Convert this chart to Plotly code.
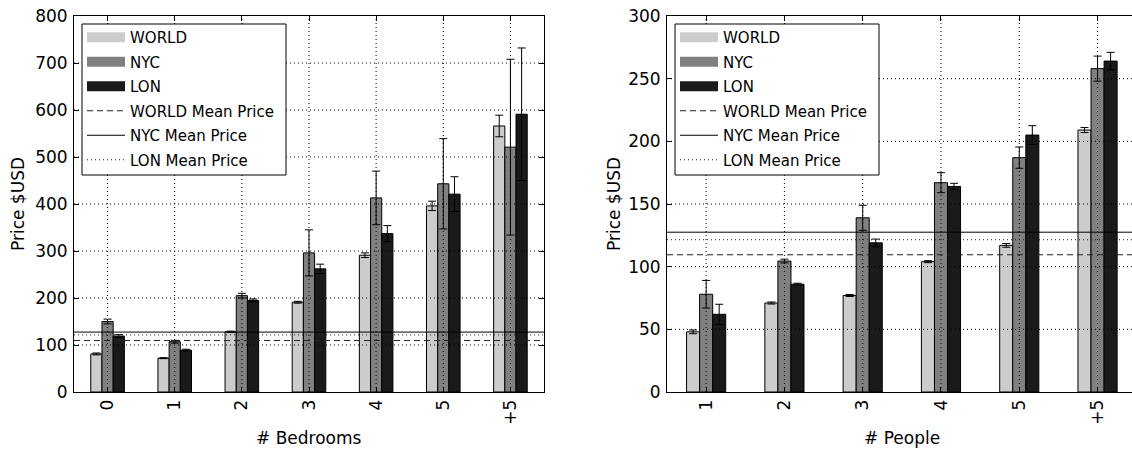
import plotly.graph_objects as go

# ---------------- data ----------------
bed_cats = ["0", "1", "2", "3", "4", "5", "+5"]
bed_world = [81, 72, 128, 191, 291, 396, 566]
bed_world_err = [2, 1, 1.5, 2, 5, 10, 23]
bed_nyc = [150, 107, 205, 296, 413, 443, 521]
bed_nyc_err = [5, 3, 5, 49, 57, 96, 187]
bed_lon = [119, 89, 195, 262, 337, 421, 591]
bed_lon_err = [3, 2, 3, 10, 17, 37, 141]

ppl_cats = ["1", "2", "3", "4", "5", "+5"]
ppl_world = [48, 71, 77, 104, 117, 209]
ppl_world_err = [1.5, 0.8, 0.8, 0.8, 1.5, 2]
ppl_nyc = [78, 104.5, 139, 167, 187, 258]
ppl_nyc_err = [11, 1.5, 10, 8, 8.5, 10]
ppl_lon = [62, 86, 119, 164, 205, 264]
ppl_lon_err = [8, 0.8, 3, 2.5, 7.5, 7]

mean_world = 109.5
mean_nyc = 127.5
mean_lon = 121.5

bed_yticks = [0, 100, 200, 300, 400, 500, 600, 700, 800]
ppl_yticks = [0, 50, 100, 150, 200, 250, 300]

series_names = ["WORLD", "NYC", "LON"]
series_colors = ["#cccccc", "#808080", "#1a1a1a"]
mean_names = ["WORLD Mean Price", "NYC Mean Price", "LON Mean Price"]
mean_values = [mean_world, mean_nyc, mean_lon]
mean_dashes = ["6px,4px", "solid", "1px,3px"]
mean_colors = ["#222222", "black", "#222222"]

FONT = "DejaVu Sans"
W, H = 1132, 450
T, B = 16, 58
PH = H - T - B
LEFT_PX = (74, 544)
RIGHT_PX = (667, 1132)


def py(pix):
    """pixel row -> paper y"""
    return 1 - (pix - T) / PH


fig = go.Figure()


def add_panel(cats, vals, errs, xa, ya, leg, grp):
    xs = list(range(len(cats)))
    for i, (name, col) in enumerate(zip(series_names, series_colors)):
        fig.add_trace(go.Bar(
            x=xs, y=vals[i], name=name, showlegend=False,
            marker=dict(color=col, line=dict(color="black", width=1)),
            error_y=dict(type="data", array=errs[i], color="black",
                         thickness=1, width=4),
            xaxis=xa, yaxis=ya,
        ))
    # legend swatches for bars (wide rectangles)
    for i, (name, col) in enumerate(zip(series_names, series_colors)):
        fig.add_trace(go.Scatter(
            x=[None], y=[None], mode="lines", name=name,
            line=dict(color=col, width=12),
            xaxis=xa, yaxis=ya, legend=leg, legendgroup=f"{grp}{i}",
        ))
    for i, (name, d, c) in enumerate(zip(mean_names, mean_dashes, mean_colors)):
        fig.add_trace(go.Scatter(
            x=[None], y=[None], mode="lines", name=name,
            line=dict(color=c, width=1, dash=d),
            xaxis=xa, yaxis=ya, legend=leg, legendgroup=f"{grp}m{i}",
        ))


add_panel(bed_cats, [bed_world, bed_nyc, bed_lon],
          [bed_world_err, bed_nyc_err, bed_lon_err], "x", "y", "legend", "a")
add_panel(ppl_cats, [ppl_world, ppl_nyc, ppl_lon],
          [ppl_world_err, ppl_nyc_err, ppl_lon_err], "x2", "y2", "legend2", "b")

shapes = []
for xref, yref, cats, yticks, (px0, px1) in [
        ("x", "y", bed_cats, bed_yticks, LEFT_PX),
        ("x2", "y2", ppl_cats, ppl_yticks, RIGHT_PX)]:
    for k in range(len(cats)):
        shapes.append(dict(type="line", xref=xref, yref=f"{yref} domain",
                           x0=k, x1=k, y0=0, y1=1, layer="above",
                           line=dict(color="black", width=1, dash="1px,3px")))
    for t in yticks[1:-1]:
        shapes.append(dict(type="line", xref=f"{xref} domain", yref=yref,
                           x0=0, x1=1, y0=t, y1=t, layer="above",
                           line=dict(color="black", width=1, dash="1px,3px")))
    for v, d, c in zip(mean_values, mean_dashes, mean_colors):
        shapes.append(dict(type="line", xref=f"{xref} domain", yref=yref,
                           x0=0, x1=1, y0=v, y1=v, layer="above",
                           line=dict(color=c, width=1, dash=d)))
    # legend frame (in subplot domain coords so it covers the grid)
    lx = px0 + 8
    shapes.append(dict(type="rect", xref=f"{xref} domain", yref=f"{yref} domain",
                       x0=(lx - px0) / (px1 - px0),
                       x1=(lx + 204 - px0) / (px1 - px0),
                       y0=py(175), y1=py(24), layer="above",
                       fillcolor="white", line=dict(color="black", width=1)))

axis_common = dict(showline=True, linecolor="black", linewidth=1,
                   ticks="inside", ticklen=5, tickwidth=1, tickcolor="black",
                   showgrid=False, zeroline=False, automargin=False,
                   tickfont=dict(family=FONT, size=17, color="black"))

left_dom = [LEFT_PX[0] / W, LEFT_PX[1] / W]
right_dom = [RIGHT_PX[0] / W, 1.0]

legend_common = dict(xanchor="left", yanchor="top", xref="paper", yref="paper",
                     borderwidth=0, bgcolor="rgba(0,0,0,0)",
                     font=dict(family=FONT, size=15, color="black"),
                     tracegroupgap=2, itemwidth=38, traceorder="grouped")

fig.update_layout(
    width=W, height=H,
    margin=dict(l=0, r=0, t=T, b=B),
    paper_bgcolor="white", plot_bgcolor="white",
    barmode="group", bargap=0.5, bargroupgap=0,
    font=dict(family=FONT, color="black"),
    showlegend=True,
    xaxis=dict(domain=left_dom, range=[-0.5, 6.5], anchor="y",
               tickmode="array", tickvals=list(range(len(bed_cats))),
               ticktext=bed_cats, tickangle=-90, mirror="ticks",
               **axis_common),
    yaxis=dict(domain=[0, 1], range=[0, 800], anchor="x",
               tickmode="array", tickvals=bed_yticks, mirror="ticks",
               ticklabelstandoff=2, **axis_common),
    xaxis2=dict(domain=right_dom, range=[-0.5, 5.44], anchor="y2",
                tickmode="array", tickvals=list(range(len(ppl_cats))),
                ticktext=ppl_cats, tickangle=-90, mirror="ticks",
                **axis_common),
    yaxis2=dict(domain=[0, 1], range=[0, 300], anchor="x2",
                tickmode="array", tickvals=ppl_yticks, mirror=False,
                ticklabelstandoff=2, **axis_common),
    legend=dict(x=(LEFT_PX[0] + 8) / W, y=py(21), **legend_common),
    legend2=dict(x=(RIGHT_PX[0] + 8) / W, y=py(21), **legend_common),
    shapes=shapes,
    annotations=[
        dict(text="# Bedrooms", x=309 / W, y=py(438), xref="paper",
             yref="paper", showarrow=False, xanchor="center", yanchor="middle",
             font=dict(family=FONT, size=17, color="black")),
        dict(text="# People", x=902 / W, y=py(438), xref="paper",
             yref="paper", showarrow=False, xanchor="center", yanchor="middle",
             font=dict(family=FONT, size=17, color="black")),
        dict(text="Price $USD", x=18 / W, y=0.5, xref="paper", yref="paper",
             showarrow=False, textangle=-90, xanchor="center", yanchor="middle",
             font=dict(family=FONT, size=17, color="black")),
        dict(text="Price $USD", x=614 / W, y=0.5, xref="paper", yref="paper",
             showarrow=False, textangle=-90, xanchor="center", yanchor="middle",
             font=dict(family=FONT, size=17, color="black")),
    ],
)

fig.write_html("out.html")
